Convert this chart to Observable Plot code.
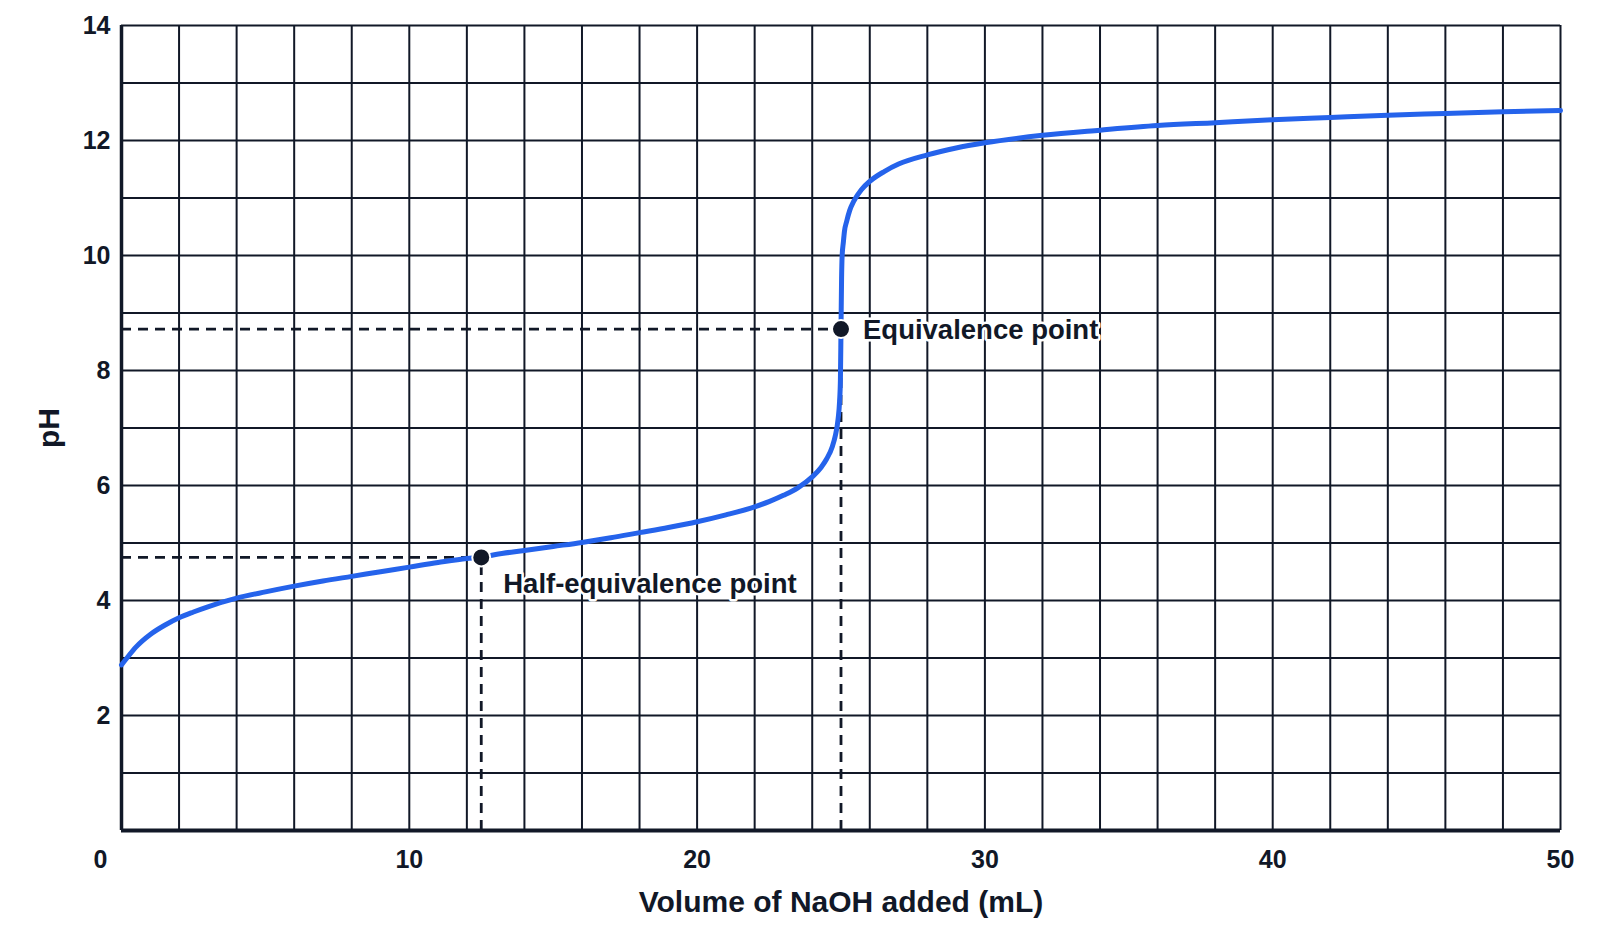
<!DOCTYPE html>
<html>
<head>
<meta charset="utf-8">
<script src="https://cdn.jsdelivr.net/npm/d3@7"></script>
<script src="https://cdn.jsdelivr.net/npm/@observablehq/plot@0.6"></script>
<style>
  html, body { margin: 0; padding: 0; background: #ffffff; }
  #chart svg { display: block; }
</style>
</head>
<body>
<div id="chart"></div>
<script>
// Titration curve
const volume = [0, 0.25, 0.5, 1, 1.5, 2, 2.5, 3, 4, 5, 6, 7, 8, 9, 10, 11, 12, 12.5, 13, 14, 15, 16, 17, 18, 19, 20, 21, 22, 22.5, 23, 23.5, 24, 24.3, 24.5, 24.7, 24.8, 24.9, 24.95, 24.98, 25, 25.02, 25.04, 25.08, 25.12, 25.2, 25.3, 25.45, 25.7, 26, 26.5, 27, 28, 29, 30, 32, 34, 36, 38, 40, 42, 44, 46, 48, 50];
const pH     = [2.88, 3.04, 3.19, 3.41, 3.57, 3.70, 3.80, 3.89, 4.04, 4.15, 4.25, 4.34, 4.42, 4.50, 4.58, 4.66, 4.73, 4.75, 4.80, 4.87, 4.94, 5.01, 5.09, 5.18, 5.27, 5.37, 5.49, 5.63, 5.72, 5.83, 5.96, 6.15, 6.31, 6.46, 6.68, 6.86, 7.16, 7.46, 7.85, 8.72, 9.6, 10.0, 10.22, 10.42, 10.6, 10.78, 10.95, 11.14, 11.29, 11.46, 11.59, 11.75, 11.87, 11.96, 12.09, 12.18, 12.26, 12.31, 12.36, 12.40, 12.44, 12.47, 12.50, 12.52];

// Marked points
const pointNames  = ["Half-equivalence point", "Equivalence point"];
const pointVolume = [12.5, 25];
const pointPH     = [4.75, 8.72];

// Ticks & grid
const xTickLabels = [0, 10, 20, 30, 40, 50];
const yTickLabels = [2, 4, 6, 8, 10, 12, 14];
const xGrid = [0, 2, 4, 6, 8, 10, 12, 14, 16, 18, 20, 22, 24, 26, 28, 30, 32, 34, 36, 38, 40, 42, 44, 46, 48, 50];
const yGrid = [0, 1, 2, 3, 4, 5, 6, 7, 8, 9, 10, 11, 12, 13, 14];

const xTitle = "Volume of NaOH added (mL)";
const yTitle = "pH";

const curve = volume.map((v, i) => ({v, p: pH[i]}));
const points = pointNames.map((n, i) => ({name: n, v: pointVolume[i], p: pointPH[i]}));

const ink = "#111827";
const blue = "#2563eb";
const font = "'Liberation Sans', Arial, Helvetica, sans-serif";

const chart = Plot.plot({
  width: 1600,
  height: 951,
  marginTop: 25,
  marginBottom: 121,
  marginLeft: 121,
  marginRight: 40,
  style: {fontFamily: font, color: ink, background: "#ffffff", overflow: "visible"},
  x: {domain: [0, 50], axis: null},
  y: {domain: [0, 14], axis: null},
  marks: [
    // grid
    Plot.ruleX(xGrid, {x: d => d, y1: 0, y2: 14, stroke: ink, strokeWidth: 2}),
    Plot.ruleY(yGrid, {y: d => d, x1: 0, x2: 50, stroke: ink, strokeWidth: 2}),
    // axis lines
    Plot.ruleX([0], {x: d => d, y1: 0, y2: 14, stroke: ink, strokeWidth: 3.5}),
    Plot.ruleY([0], {y: d => d, x1: 0, x2: 50, stroke: ink, strokeWidth: 4}),
    // dashed guides
    Plot.ruleY(points, {y: "p", x1: 0, x2: "v", stroke: ink, strokeWidth: 2.8, strokeDasharray: "10,7"}),
    Plot.ruleX(points, {x: "v", y1: 0, y2: "p", stroke: ink, strokeWidth: 2.8, strokeDasharray: "10,7"}),
    // curve
    Plot.line(curve, {x: "v", y: "p", stroke: blue, strokeWidth: 5, curve: "monotone-x", strokeLinecap: "round"}),
    // points
    Plot.dot(points, {x: "v", y: "p", r: 9, fill: ink, stroke: "#ffffff", strokeWidth: 2}),
    // point labels
    Plot.text(points.filter(d => d.v === 25), {x: "v", y: "p", text: "name", textAnchor: "start", dx: 22, dy: 1,
      fontSize: 27.5, fontWeight: 700, fill: ink, stroke: "#ffffff", strokeWidth: 5}),
    Plot.text(points.filter(d => d.v === 12.5), {x: "v", y: "p", text: "name", textAnchor: "start", dx: 22, dy: 27,
      fontSize: 27.5, fontWeight: 700, fill: ink, stroke: "#ffffff", strokeWidth: 5}),
    // tick labels
    Plot.text(yTickLabels, {x: 0, y: d => d, text: d => String(d), textAnchor: "end", dx: -11,
      fontSize: 25, fontWeight: 700, fill: ink}),
    Plot.text(xTickLabels.filter(d => d !== 0), {x: d => d, y: 0, text: d => String(d), dy: 29,
      fontSize: 25, fontWeight: 700, fill: ink}),
    Plot.text(xTickLabels.filter(d => d === 0), {x: d => d, y: 0, text: d => String(d), dy: 29, dx: -21,
      fontSize: 25, fontWeight: 700, fill: ink}),
    // axis titles
    Plot.text([xTitle], {x: 25, y: 0, text: d => d, dy: 72, fontSize: 30, fontWeight: 700, fill: ink}),
    Plot.text([yTitle], {x: 0, y: 7, text: d => d, dx: -72, rotate: -90, fontSize: 30, fontWeight: 700, fill: ink})
  ]
});

document.getElementById("chart").appendChild(chart);
</script>
</body>
</html>
